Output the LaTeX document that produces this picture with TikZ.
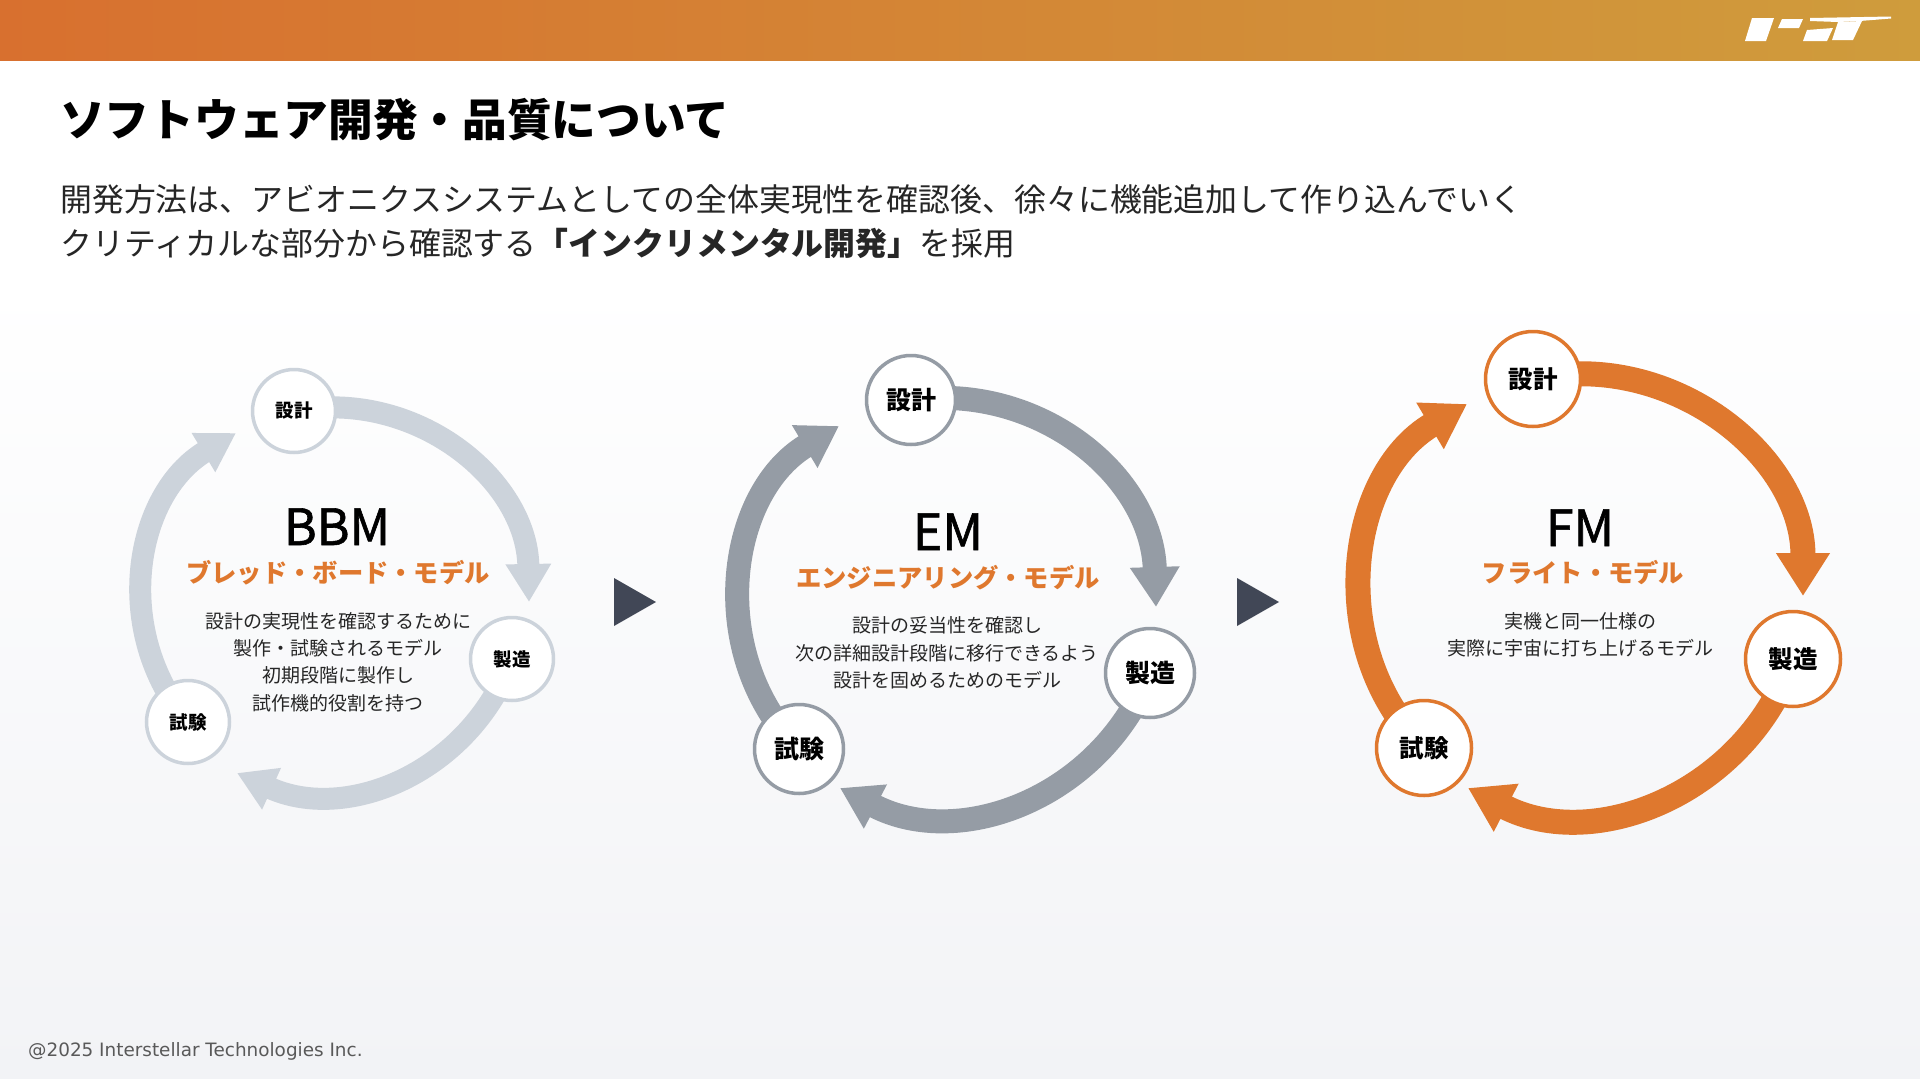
\documentclass[tikz,border=0pt]{standalone}
\usepackage{fontspec}
\setmainfont{Noto Sans CJK JP}
\newfontfamily\footerfont{DejaVu Sans}
\newfontfamily\labelfont[FakeBold=1.2]{Noto Sans CJK JP}
\usetikzlibrary{
    arrows.meta,
    backgrounds
}
\definecolor{ist orange}{HTML}{DF782E}
\definecolor{ist pale}{HTML}{CCD3DB}
\definecolor{ist gray}{HTML}{959CA5}
\definecolor{ist dark}{HTML}{414756}
\definecolor{band left}{HTML}{D8702F}
\definecolor{band right}{HTML}{CF9C3C}
\definecolor{page low}{HTML}{F2F3F6}
\tikzset{
    % Ring segment between two stages:
    ring/.style n args = {4}{
        draw = #1,
        line width = #2,
        looseness = 1.04,
        -{Triangle[length=#3, width=#4]}
    },
    % Stage on a ring:
    stage node/.style n args = {3}{
        circle,
        fill = white,
        draw = #1,
        line width = 3.5pt,
        inner sep = 0pt,
        minimum size = #2,
        font = \fontsize{#3}{#3}\selectfont\bfseries
    },
    model node/.style = {
        anchor = base,
        inner sep = 0pt,
        text = black,
        font = \labelfont\fontsize{50}{50}\selectfont
    },
    kind node/.style = {
        anchor = base,
        inner sep = 0pt,
        text = ist orange,
        font = \fontsize{25.3}{25.3}\selectfont\bfseries
    },
    note node/.style = {
        align = center,
        inner sep = 0pt,
        text = black!85,
        font = \fontsize{19}{27.3}\selectfont
    },
    heading node/.style = {
        anchor = base west,
        inner sep = 0pt,
        text = black!85,
        font = \fontsize{31.9}{32}\selectfont
    },
    next node/.style = {
        fill = ist dark
    }
}

\begin{document}
\begin{tikzpicture}[x=1pt, y=1pt]
    \useasboundingbox (0, 0) rectangle (1920, -1079);
    \begin{scope}[on background layer]
        \fill [white] (0, 0) rectangle (1920, -1079);
        \shade [top color=white, bottom color=page low] (0, -280) rectangle (1920, -1079);
        \shade [left color=band left, right color=band right] (0, 0) rectangle (1920, -60);
    \end{scope}
    % Logo:
    \fill [white] (1752, -18) -- (1774, -18) -- (1766, -41) -- (1745, -41) -- cycle;
    \fill [white] (1782, -19) -- (1803, -19) -- (1799, -28) -- (1778, -28) -- cycle;
    \fill [white] (1807, -30) -- (1833, -28) -- (1827, -41) -- (1803, -41) -- cycle;
    \fill [white] (1838, -22) -- (1862, -21) -- (1853, -40) -- (1832, -40) -- cycle;
    \fill [white] (1810, -18) -- (1891, -16.5) -- (1891, -18.5) -- (1860, -21) -- (1838, -22) -- (1810, -21) -- cycle;
    % Heading:
    \node (title) [heading node, font=\fontsize{44.7}{44.7}\selectfont\bfseries, text=black] at (60, -136) {ソフトウェア開発・品質について};
    \node (lead a) [heading node] at (60, -211) {開発方法は、アビオニクスシステムとしての全体実現性を確認後、徐々に機能追加して作り込んでいく};
    \node (lead b) [heading node] at (60, -255) {クリティカルな部分から確認する\textbf{「インクリメンタル開発」}を採用};
    % BBM:
    \node (bbm label) [model node] at (337, -545) {BBM};
    \node (bbm kind) [kind node] at (338, -582) {ブレッド・ボード・モデル};
    \node (bbm note) [note node] at (338, -662) {設計の実現性を確認するために\\製作・試験されるモデル\\初期段階に製作し\\試作機的役割を持つ};
    \node (bbm d) [stage node={ist pale}{83pt}{18.5}] at (294, -411) {設計};
    \node (bbm m) [stage node={ist pale}{83pt}{18.5}] at (512, -659) {製造};
    \node (bbm t) [stage node={ist pale}{83pt}{18.5}] at (188, -722) {試験};
    \coordinate (bbm dm) at (529, -602);
    \coordinate (bbm mt) at (237, -773);
    \coordinate (bbm td) at (236, -433);
    % EM:
    \node (em label) [model node] at (948, -550) {EM};
    \node (em kind) [kind node] at (948, -587) {エンジニアリング・モデル};
    \node (em note) [note node] at (947, -653) {設計の妥当性を確認し\\次の詳細設計段階に移行できるよう\\設計を固めるためのモデル};
    \node (em d) [stage node={ist gray}{89pt}{25}] at (911, -400) {設計};
    \node (em m) [stage node={ist gray}{89pt}{25}] at (1150, -673) {製造};
    \node (em t) [stage node={ist gray}{89pt}{25}] at (799, -749) {試験};
    \coordinate (em dm) at (1156, -607);
    \coordinate (em mt) at (840, -788);
    \coordinate (em td) at (839, -426);
    % FM:
    \node (fm label) [model node] at (1580, -546) {FM};
    \node (fm kind) [kind node] at (1583, -582) {フライト・モデル};
    \node (fm note) [note node] at (1580, -635) {実機と同一仕様の\\実際に宇宙に打ち上げるモデル};
    \node (fm d) [stage node={ist orange}{95pt}{24.5}] at (1533, -379) {設計};
    \node (fm m) [stage node={ist orange}{95pt}{24.5}] at (1793, -659) {製造};
    \node (fm t) [stage node={ist orange}{95pt}{24.5}] at (1424, -748) {試験};
    \coordinate (fm dm) at (1803, -596);
    \coordinate (fm mt) at (1468, -788);
    \coordinate (fm td) at (1467, -404);
    \begin{scope}[on background layer]
        \draw [ring={ist pale}{22pt}{38pt}{43pt}] (bbm d.center) to [bend left=49.9] (bbm dm);
        \draw [ring={ist pale}{22pt}{38pt}{43pt}] (bbm m.center) to [bend left=47] (bbm mt);
        \draw [ring={ist pale}{22pt}{38pt}{43pt}] (bbm t.center) to [bend left=49.5] (bbm td);
        \draw [ring={ist gray}{24pt}{40pt}{47pt}] (em d.center) to [bend left=48] (em dm);
        \draw [ring={ist gray}{24pt}{40pt}{47pt}] (em m.center) to [bend left=48] (em mt);
        \draw [ring={ist gray}{24pt}{40pt}{47pt}] (em t.center) to [bend left=52] (em td);
        \draw [ring={ist orange}{25pt}{43pt}{51pt}] (fm d.center) to [bend left=51.2] (fm dm);
        \draw [ring={ist orange}{25pt}{43pt}{51pt}] (fm m.center) to [bend left=49] (fm mt);
        \draw [ring={ist orange}{25pt}{43pt}{51pt}] (fm t.center) to [bend left=52.3] (fm td);
    \end{scope}
    % Steps between the models:
    \fill [next node] (614, -578) -- (656, -602) -- (614, -626) -- cycle;
    \fill [next node] (1237, -578) -- (1279, -602) -- (1237, -626) -- cycle;
    % Footer:
    \node (footer) [anchor=base west, inner sep=0pt, text=black!65, font=\footerfont\fontsize{18.4}{18.4}\selectfont] at (28, -1056) {@2025 Interstellar Technologies Inc.};
\end{tikzpicture}
\end{document}
